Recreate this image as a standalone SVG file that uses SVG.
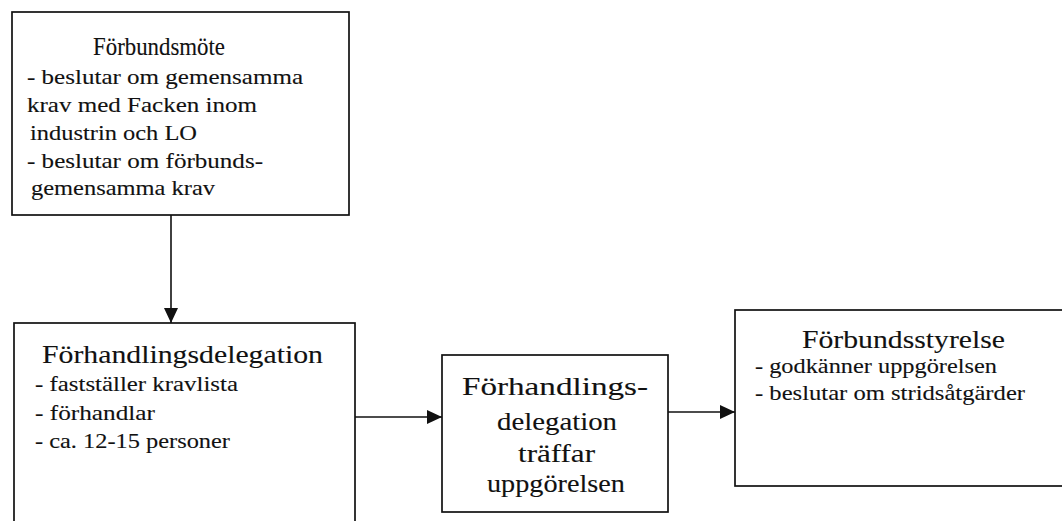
<svg xmlns="http://www.w3.org/2000/svg" width="1062" height="521" viewBox="0 0 1062 521">
<defs>
<style>
.box{fill:#fff;stroke:#111;stroke-width:1.7}
.t{font-family:"Liberation Serif","Times New Roman",serif;fill:#111;stroke:#111;stroke-width:0.12}
.h{font-size:26px}
.b{font-size:22px}
.m{font-size:26px}
.c{stroke:#111;stroke-width:1.6;fill:none}
</style>
<marker id="ah" markerUnits="userSpaceOnUse" markerWidth="16" markerHeight="14" refX="15" refY="7" orient="auto">
<path d="M0,0 L15,7 L0,14 Z" fill="#111"/>
</marker>
</defs>
<rect width="1062" height="521" fill="#fff"/>
<g id="connectors">
<line class="c" x1="171" y1="215" x2="171" y2="323" marker-end="url(#ah)"/>
<line class="c" x1="355" y1="417" x2="442" y2="417" marker-end="url(#ah)"/>
<line class="c" x1="668" y1="412" x2="735" y2="412" marker-end="url(#ah)"/>
</g>
<g id="forbundsmote">
<rect class="box" x="12" y="12" width="337" height="203"/>
<text class="t h" x="93" y="55" textLength="132" lengthAdjust="spacingAndGlyphs">Förbundsmöte</text>
<text class="t b" x="27" y="84" textLength="276" lengthAdjust="spacingAndGlyphs">- beslutar om gemensamma</text>
<text class="t b" x="27" y="112" textLength="230" lengthAdjust="spacingAndGlyphs">krav med Facken inom</text>
<text class="t b" x="30" y="140" textLength="167" lengthAdjust="spacingAndGlyphs">industrin och LO</text>
<text class="t b" x="27" y="168" textLength="236" lengthAdjust="spacingAndGlyphs">- beslutar om förbunds-</text>
<text class="t b" x="31" y="195" textLength="184" lengthAdjust="spacingAndGlyphs">gemensamma krav</text>
</g>
<g id="forhandlingsdelegation">
<rect class="box" x="14" y="323" width="341" height="215"/>
<text class="t h" x="42" y="363" textLength="281" lengthAdjust="spacingAndGlyphs">Förhandlingsdelegation</text>
<text class="t b" x="35" y="391" textLength="203" lengthAdjust="spacingAndGlyphs">- fastställer kravlista</text>
<text class="t b" x="35" y="420" textLength="120" lengthAdjust="spacingAndGlyphs">- förhandlar</text>
<text class="t b" x="35" y="448" textLength="195" lengthAdjust="spacingAndGlyphs">- ca. 12-15 personer</text>
</g>
<g id="traffar">
<rect class="box" x="442" y="355" width="226" height="157"/>
<text class="t m" x="462" y="395" textLength="186" lengthAdjust="spacingAndGlyphs">Förhandlings-</text>
<text class="t m" x="497" y="430" textLength="120" lengthAdjust="spacingAndGlyphs">delegation</text>
<text class="t m" x="518" y="462" textLength="77" lengthAdjust="spacingAndGlyphs">träffar</text>
<text class="t m" x="487" y="492" textLength="138" lengthAdjust="spacingAndGlyphs">uppgörelsen</text>
</g>
<g id="forbundsstyrelse">
<rect class="box" x="735" y="310" width="340" height="176"/>
<text class="t h" x="802" y="348" textLength="203" lengthAdjust="spacingAndGlyphs">Förbundsstyrelse</text>
<text class="t b" x="755" y="373" textLength="242" lengthAdjust="spacingAndGlyphs">- godkänner uppgörelsen</text>
<text class="t b" x="755" y="400" textLength="270" lengthAdjust="spacingAndGlyphs">- beslutar om stridsåtgärder</text>
</g>
</svg>
